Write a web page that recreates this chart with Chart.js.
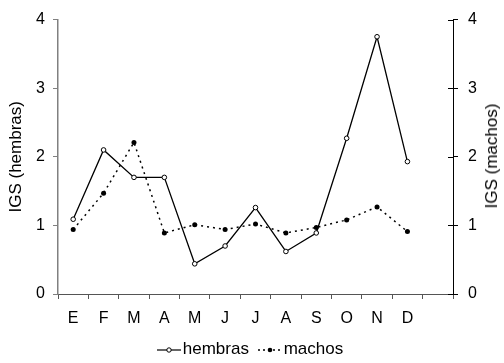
<!DOCTYPE html>
<html>
<head>
<meta charset="utf-8">
<script src="https://cdn.jsdelivr.net/npm/chart.js@4/dist/chart.umd.min.js"></script>
<style>
    body { margin: 0; background: #fff; }
    #wrap { position: relative; width: 504px; height: 363px; font-family: "Liberation Sans", Arial, sans-serif; }
    #legend { position: absolute; left: 0; top: 339px; width: 504px; text-align: center; font-size: 17px; color: #000; }
    #legend svg { vertical-align: middle; margin-right: 2px; }
    #legend span { margin-right: 4px; }
    #rtitle { position: absolute; left: 492px; top: 156px; transform: translate(-50%, -50%) rotate(-90deg); font-size: 17px; white-space: nowrap; }
</style>
</head>
<body>
<div id="wrap">
    <canvas id="igs" width="504" height="363"></canvas>
    <div id="rtitle">IGS (machos)</div>
    <div id="legend">
        <svg width="24" height="10"><line x1="0" y1="5" x2="24" y2="5" stroke="#000" stroke-width="1.2"/><circle cx="12" cy="5" r="2.2" fill="#fff" stroke="#000" stroke-width="1"/></svg><span>hembras</span>
        <svg width="24" height="10"><line x1="0" y1="5" x2="24" y2="5" stroke="#000" stroke-width="1.5" stroke-dasharray="2,3"/><circle cx="12" cy="5" r="2.3" fill="#000"/></svg><span>machos</span>
    </div>
</div>
<script>
var months = ["E", "F", "M", "A", "M", "J", "J", "A", "S", "O", "N", "D", ""];
var hembras = [1.09, 2.10, 1.70, 1.70, 0.44, 0.70, 1.26, 0.62, 0.89, 2.27, 3.75, 1.93];
var machos = [0.94, 1.47, 2.21, 0.89, 1.01, 0.94, 1.02, 0.89, 0.97, 1.08, 1.27, 0.91];
var yTicks = [0, 1, 2, 3, 4];

var FONT = "'Liberation Sans', Arial, sans-serif";

// inward half of the right axis ticks
var innerTicks = {
    id: 'innerTicks',
    afterDraw: function (chart) {
        var s = chart.scales.y1;
        var ctx = chart.ctx;
        ctx.save();
        ctx.strokeStyle = '#000';
        ctx.lineWidth = 1;
        s.ticks.forEach(function (t) {
            var y = Math.round(s.getPixelForValue(t.value)) + 0.5;
            ctx.beginPath();
            ctx.moveTo(s.left - 5, y);
            ctx.lineTo(s.left, y);
            ctx.stroke();
        });
        ctx.restore();
    }
};

new Chart(document.getElementById("igs"), {
    type: 'line',
    data: {
        labels: months,
        datasets: [
            {
                label: "hembras",
                data: hembras,
                yAxisID: 'y',
                borderColor: '#000',
                borderWidth: 1.3,
                pointRadius: 2.3,
                pointBorderWidth: 1,
                pointBackgroundColor: '#fff',
                pointBorderColor: '#000',
                tension: 0
            }, {
                label: "machos",
                data: machos,
                yAxisID: 'y1',
                borderColor: '#000',
                borderWidth: 1.5,
                borderDash: [2, 4],
                pointRadius: 2.5,
                pointBorderWidth: 0,
                pointBackgroundColor: '#000',
                pointBorderColor: '#000',
                tension: 0
            }
        ]
    },
    options: {
        responsive: false,
        animation: false,
        devicePixelRatio: 1,
        layout: { padding: { top: 18, left: 0, right: 0, bottom: 0 } },
        plugins: {
            legend: { display: false },
            tooltip: { enabled: false }
        },
        scales: {
            x: {
                offset: true,
                grid: { offset: true, drawOnChartArea: false, drawTicks: true, tickLength: 5, color: '#555' },
                border: { display: true, color: '#555', width: 1 },
                ticks: { color: '#000', font: { family: FONT, size: 16 }, padding: 10, maxRotation: 0, autoSkip: false },
                afterFit: function (s) { s.height = 69; }
            },
            y: {
                position: 'left',
                min: 0, max: 4,
                afterBuildTicks: function (s) { s.ticks = yTicks.map(function (v) { return { value: v }; }); },
                grid: { drawOnChartArea: false, drawTicks: true, tickLength: 5, color: '#808080' },
                border: { display: true, color: '#808080', width: 1.5 },
                ticks: { color: '#000', font: { family: FONT, size: 16 }, padding: 8 },
                title: { display: true, text: 'IGS (hembras)', color: '#000', font: { family: FONT, size: 17 }, padding: { top: 6, bottom: 0 } },
                afterFit: function (s) { s.width = 58; }
            },
            y1: {
                position: 'right',
                min: 0, max: 4,
                afterBuildTicks: function (s) { s.ticks = yTicks.map(function (v) { return { value: v }; }); },
                grid: { drawOnChartArea: false, drawTicks: true, tickLength: 5, color: '#000' },
                border: { display: true, color: '#000', width: 1 },
                ticks: { color: '#000', font: { family: FONT, size: 16 }, padding: 10 },
                afterFit: function (s) { s.width = 51; }
            }
        }
    },
    plugins: [innerTicks]
});
</script>
</body>
</html>
